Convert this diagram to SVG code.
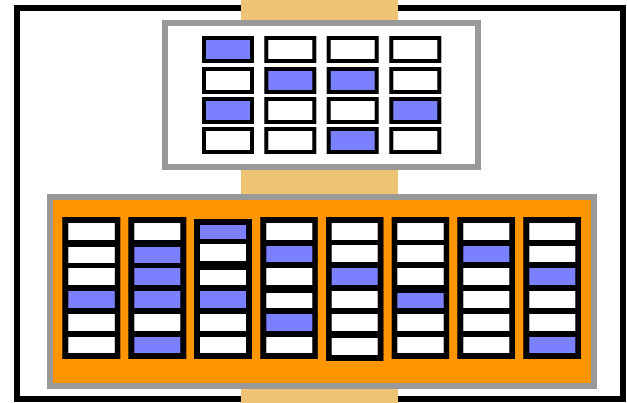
<svg xmlns="http://www.w3.org/2000/svg" width="627" height="403" viewBox="0 0 627 403">
<style>
.frame{fill:#fff;stroke:#000;stroke-width:6}
.band{fill:#EEC474}
.panel{stroke:#999;stroke-width:6}
.tc{stroke:#000;stroke-width:4}
.w{fill:#fff}
.b{fill:#7B80FF}
.col{fill:#000}
</style>
<rect class="frame" x="17" y="8" width="606" height="391"/>
<rect class="band" x="241" y="0" width="157" height="403"/>
<g id="top-panel">
<rect class="panel" x="165" y="23" width="313" height="144" fill="#fff"/>
<rect class="tc b" x="204" y="38" width="48" height="23"/>
<rect class="tc w" x="266.3" y="38" width="48" height="23"/>
<rect class="tc w" x="328.7" y="38" width="48" height="23"/>
<rect class="tc w" x="391.3" y="38" width="48" height="23"/>
<rect class="tc w" x="204" y="69" width="48" height="23"/>
<rect class="tc b" x="266.3" y="69" width="48" height="23"/>
<rect class="tc b" x="328.7" y="69" width="48" height="23"/>
<rect class="tc w" x="391.3" y="69" width="48" height="23"/>
<rect class="tc b" x="204" y="99" width="48" height="23"/>
<rect class="tc w" x="266.3" y="99" width="48" height="23"/>
<rect class="tc w" x="328.7" y="99" width="48" height="23"/>
<rect class="tc b" x="391.3" y="99" width="48" height="23"/>
<rect class="tc w" x="204" y="129" width="48" height="23"/>
<rect class="tc w" x="266.3" y="129" width="48" height="23"/>
<rect class="tc b" x="328.7" y="129" width="48" height="23"/>
<rect class="tc w" x="391.3" y="129" width="48" height="23"/>
</g>
<g id="bottom-panel">
<rect class="panel" x="50" y="197" width="544" height="189" fill="#FF9500"/>
</g>
<g id="col1">
<rect class="col" x="62.3" y="217" width="58" height="142"/>
<rect class="w" x="68.3" y="223" width="46.5" height="17"/>
<rect class="w" x="68.3" y="247" width="46.5" height="16"/>
<rect class="w" x="68.3" y="268" width="46.5" height="17"/>
<rect class="b" x="68.3" y="291" width="46.5" height="17"/>
<rect class="w" x="68.3" y="314" width="46.5" height="17"/>
<rect class="w" x="68.3" y="337" width="46.5" height="16"/>
</g>
<g id="col2">
<rect class="col" x="128.3" y="217" width="58" height="142"/>
<rect class="w" x="134.3" y="223" width="46" height="17"/>
<rect class="b" x="134.3" y="247" width="46" height="16"/>
<rect class="b" x="134.3" y="268" width="46" height="17"/>
<rect class="b" x="134.3" y="291" width="46" height="17"/>
<rect class="w" x="134.3" y="314" width="46" height="17"/>
<rect class="b" x="134.3" y="337" width="46" height="16"/>
</g>
<g id="col3">
<rect class="col" x="194" y="219" width="58" height="140"/>
<rect class="b" x="200" y="225" width="46" height="14"/>
<rect class="w" x="200" y="244" width="46" height="17"/>
<rect class="w" x="200" y="270" width="46" height="15"/>
<rect class="b" x="200" y="291" width="46" height="17"/>
<rect class="w" x="200" y="314" width="46" height="17"/>
<rect class="w" x="200" y="337" width="46" height="16"/>
</g>
<g id="col4">
<rect class="col" x="260.3" y="217" width="57.5" height="142"/>
<rect class="w" x="266.3" y="223" width="46" height="17"/>
<rect class="b" x="266.3" y="246" width="46" height="16"/>
<rect class="w" x="266.3" y="268" width="46" height="17"/>
<rect class="w" x="266.3" y="293" width="46" height="15"/>
<rect class="b" x="266.3" y="314" width="46" height="17"/>
<rect class="w" x="266.3" y="337" width="46" height="16"/>
</g>
<g id="col5">
<rect class="col" x="326" y="217" width="57.5" height="144"/>
<rect class="w" x="331.7" y="223" width="46" height="17"/>
<rect class="w" x="331.7" y="245" width="46" height="17"/>
<rect class="b" x="331.7" y="268" width="46" height="17"/>
<rect class="w" x="331.7" y="291" width="46" height="17"/>
<rect class="w" x="331.7" y="314" width="46" height="17"/>
<rect class="w" x="331.7" y="338" width="46" height="17"/>
</g>
<g id="col6">
<rect class="col" x="391.7" y="217" width="57.5" height="142"/>
<rect class="w" x="397.3" y="223" width="46.4" height="17"/>
<rect class="w" x="397.3" y="245" width="46.4" height="17"/>
<rect class="w" x="397.3" y="268" width="46.4" height="17"/>
<rect class="b" x="397.3" y="293" width="46.4" height="15"/>
<rect class="w" x="397.3" y="314" width="46.4" height="17"/>
<rect class="w" x="397.3" y="337" width="46.4" height="16"/>
</g>
<g id="col7">
<rect class="col" x="457.3" y="217" width="57.7" height="142"/>
<rect class="w" x="463.3" y="223" width="46" height="17"/>
<rect class="b" x="463.3" y="246" width="46" height="16"/>
<rect class="w" x="463.3" y="268" width="46" height="17"/>
<rect class="w" x="463.3" y="291" width="46" height="17"/>
<rect class="w" x="463.3" y="314" width="46" height="17"/>
<rect class="w" x="463.3" y="337" width="46" height="16"/>
</g>
<g id="col8">
<rect class="col" x="523.3" y="217" width="57.7" height="142"/>
<rect class="w" x="529.3" y="223" width="46" height="17"/>
<rect class="w" x="529.3" y="246" width="46" height="16"/>
<rect class="b" x="529.3" y="268" width="46" height="17"/>
<rect class="w" x="529.3" y="291" width="46" height="17"/>
<rect class="w" x="529.3" y="314" width="46" height="17"/>
<rect class="b" x="529.3" y="337" width="46" height="16"/>
</g>
<g id="connectors"/>
</svg>
